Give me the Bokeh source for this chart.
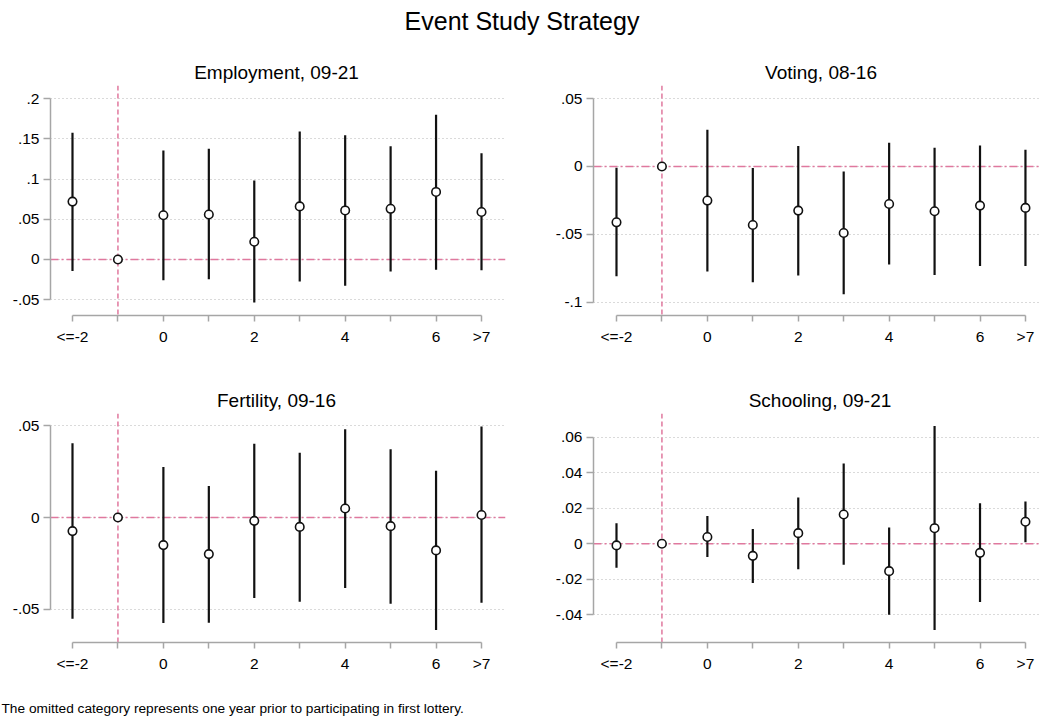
import numpy as np
from bokeh.plotting import figure
from bokeh.models import Range1d, FixedTicker, Span, Label, ColumnDataSource
from bokeh.layouts import column, row
from bokeh.embed import file_html
from bokeh.resources import INLINE

# ---------------- data ----------------
periods = [-2, -1, 0, 1, 2, 3, 4, 5, 6, 7]
period_labels = ["<=-2", "", "0", "", "2", "", "4", "", "6", ">7"]

emp_coef = [0.072, 0.0, 0.055, 0.056, 0.022, 0.066, 0.061, 0.063, 0.084, 0.059]
emp_lo = [-0.0145, np.nan, -0.026, -0.0245, -0.0535, -0.0274, -0.0328, -0.0149, -0.0129, -0.0133]
emp_hi = [0.1577, np.nan, 0.1357, 0.1378, 0.0983, 0.1593, 0.1544, 0.1407, 0.1801, 0.132]
emp_yticks = [-0.05, 0.0, 0.05, 0.1, 0.15, 0.2]
emp_ylabels = ["-.05", "0", ".05", ".1", ".15", ".2"]

vot_coef = [-0.0411, 0.0, -0.0251, -0.0431, -0.0325, -0.049, -0.0276, -0.033, -0.0288, -0.0305]
vot_lo = [-0.0808, np.nan, -0.0773, -0.0852, -0.0803, -0.0941, -0.0722, -0.0798, -0.0732, -0.0732]
vot_hi = [-0.001, np.nan, 0.0271, -0.0012, 0.015, -0.0037, 0.0175, 0.0138, 0.0155, 0.0123]
vot_yticks = [-0.1, -0.05, 0.0, 0.05]
vot_ylabels = ["-.1", "-.05", "0", ".05"]

fer_coef = [-0.0074, 0.0, -0.015, -0.0199, -0.0018, -0.0051, 0.0049, -0.0047, -0.0179, 0.0014]
fer_lo = [-0.0551, np.nan, -0.0574, -0.0572, -0.0438, -0.0458, -0.0384, -0.0469, -0.0612, -0.0464]
fer_hi = [0.0404, np.nan, 0.0275, 0.0172, 0.0402, 0.0353, 0.048, 0.0371, 0.0255, 0.0495]
fer_yticks = [-0.05, 0.0, 0.05]
fer_ylabels = ["-.05", "0", ".05"]

sch_coef = [-0.0009, 0.0, 0.0038, -0.0068, 0.006, 0.0165, -0.0154, 0.0088, -0.0051, 0.0124]
sch_lo = [-0.0135, np.nan, -0.0075, -0.0221, -0.0143, -0.0118, -0.0399, -0.0486, -0.0328, 0.0009]
sch_hi = [0.0116, np.nan, 0.0156, 0.0084, 0.0261, 0.0452, 0.0092, 0.0664, 0.0229, 0.0238]
sch_yticks = [-0.04, -0.02, 0.0, 0.02, 0.04, 0.06]
sch_ylabels = ["-.04", "-.02", "0", ".02", ".04", ".06"]

main_title = "Event Study Strategy"
panel_titles = ["Employment, 09-21", "Voting, 08-16", "Fertility, 09-16", "Schooling, 09-21"]
footnote = "The omitted category represents one year prior to participating in first lottery."

# ---------------- style ----------------
FONT = "Liberation Sans"
AXIS_GRAY = "#a6a6a6"
GRID_GRAY = "#b4b4b4"
REF_PINK = "#e0789e"
INK = "#111111"


def panel(coef, lo, hi, yticks, ylabels, yr, xr, height, left, right, bottom):
    p = figure(width=520, height=height, x_range=Range1d(*xr), y_range=Range1d(*yr),
               output_backend="svg", toolbar_location=None, title=None,
               min_border_left=left, min_border_right=right,
               min_border_top=0, min_border_bottom=bottom)
    p.outline_line_color = None
    p.background_fill_color = "white"
    p.border_fill_color = "white"

    yax = p.yaxis[0]
    yax.ticker = FixedTicker(ticks=yticks, minor_ticks=[])
    yax.major_label_overrides = {t: l for t, l in zip(yticks, ylabels)}
    yax.bounds = (min(yticks), max(yticks))
    xax = p.xaxis[0]
    xax.ticker = FixedTicker(ticks=periods, minor_ticks=[])
    xax.major_label_overrides = {t: l for t, l in zip(periods, period_labels)}
    xax.bounds = (min(periods), max(periods))

    for ax in (xax, yax):
        ax.axis_line_color = AXIS_GRAY
        ax.axis_line_width = 1.5
        ax.major_tick_line_color = AXIS_GRAY
        ax.major_tick_line_width = 1.5
        ax.major_tick_in = 0
        ax.minor_tick_line_color = None
        ax.major_label_text_font = FONT
        ax.major_label_text_font_size = "15.5px"
        ax.major_label_text_color = "black"
    xax.major_tick_out = 6
    xax.major_label_standoff = 6
    yax.major_tick_out = 7
    yax.major_label_standoff = 4

    p.xgrid.visible = False
    p.ygrid.ticker = FixedTicker(ticks=yticks)
    p.ygrid.grid_line_color = GRID_GRAY
    p.ygrid.grid_line_dash = "1 3"
    p.ygrid.grid_line_width = 1

    p.add_layout(Span(location=0, dimension="width", line_color=REF_PINK,
                      line_dash="8 3 2 3", line_width=1.5, level="underlay"))
    p.add_layout(Span(location=-1, dimension="height", line_color=REF_PINK,
                      line_dash="5 3", line_width=1.5, level="underlay"))

    src = ColumnDataSource(dict(x=periods, coef=coef, lo=lo, hi=hi))
    p.segment(x0="x", y0="lo", x1="x", y1="hi", source=src, line_color=INK, line_width=2.2)
    p.scatter(x="x", y="coef", source=src, marker="circle", size=8.5,
              fill_color="white", line_color=INK, line_width=1.6)
    return p


XR_L = (-2.484, 7.528)
XR_R = (-2.506, 7.331)

p1 = panel(emp_coef, emp_lo, emp_hi, emp_yticks, emp_ylabels,
           (-0.0697, 0.2164), XR_L, 300, 50, 15, 70)
p2 = panel(vot_coef, vot_lo, vot_hi, vot_yticks, vot_ylabels,
           (-0.1097, 0.0596), XR_R, 300, 73, 0, 70)
p3 = panel(fer_coef, fer_lo, fer_hi, fer_yticks, fer_ylabels,
           (-0.068, 0.0566), XR_L, 277, 50, 15, 48)
p4 = panel(sch_coef, sch_lo, sch_hi, sch_yticks, sch_ylabels,
           (-0.0556, 0.0734), XR_R, 277, 73, 0, 48)


def text_strip(height):
    f = figure(width=1040, height=height, x_range=Range1d(0, 1040), y_range=Range1d(0, height),
               x_axis_type=None, y_axis_type=None, output_backend="svg", toolbar_location=None,
               title=None, min_border=0)
    f.outline_line_color = None
    f.xgrid.visible = False
    f.ygrid.visible = False
    return f


def put(f, x, y, text, size_px, align="center"):
    f.add_layout(Label(x=x, y=y, text=text, text_align=align, text_baseline="alphabetic",
                       text_font=FONT, text_font_size=f"{size_px}px", text_color="black"))


top = text_strip(85)
put(top, 521.5, 64.5, main_title, 25)
put(top, 276, 12.7, panel_titles[0], 19)
put(top, 820.5, 12.7, panel_titles[1], 19)

mid = text_strip(28)
put(mid, 276, 13.3, panel_titles[2], 19)
put(mid, 819.5, 13.3, panel_titles[3], 19)

foot = text_strip(29)
put(foot, 1, 11, footnote, 13.7, align="left")

layout = column(top, row(p1, p2), mid, row(p3, p4), foot)

open("out.html", "w").write(file_html(layout, INLINE))
